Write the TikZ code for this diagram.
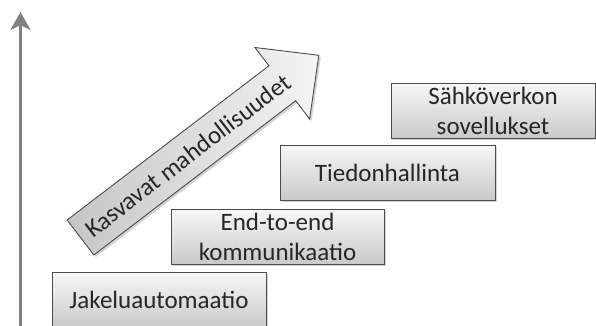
\documentclass[tikz,border=0pt]{standalone}
\usepackage{fontspec}
\setmainfont{Carlito}
\usetikzlibrary{shadows,arrows.meta,positioning}

\begin{document}
\begin{tikzpicture}[x=1pt,y=1pt]
    \tikzstyle{block} = [rectangle, draw=black!70, line width=0.9pt,
    top color=gray!6, bottom color=gray!42,
    drop shadow={opacity=0.35, shadow xshift=2pt, shadow yshift=-2pt},
    minimum height=55, inner sep=0pt, align=center,
    text=black!85, font=\fontsize{25}{30}\selectfont]
    \tikzstyle{axis} = [draw=gray, line width=3.5pt,
    -{Stealth[length=18pt,width=20pt,inset=5pt]}]

    \useasboundingbox (0,0) rectangle (596,325);
    \clip (0,0) rectangle (596,325);

    % Vertical axis
    \coordinate (axisbot) at (20.5,-5);
    \coordinate (axistop) at (20.5,313);
    \draw[axis] (axisbot) -- (axistop);

    % Steps
    \node[block, minimum width=214] (jakelu) at (159,25.5) {Jakeluautomaatio};
    \node[block, minimum width=213] (endtoend) at (277.5,88.5) {End-to-end\\kommunikaatio};
    \node[block, minimum width=215] (tieto) at (387.5,152.5) {Tiedonhallinta};
    \node[block, minimum width=204] (sovellus) at (493,214.5) {Sähköverkon\\sovellukset};

    % Big arrow
    \begin{scope}[shift={(80.5,87.5)}, rotate=37.4]
      \draw[draw=black!70, line width=0.9pt, left color=gray!45, right color=gray!8,
      drop shadow={opacity=0.35, shadow xshift=2pt, shadow yshift=-2pt}]
      (0,-22) -- (254,-22) -- (254,-45) -- (300,0) -- (254,45) -- (254,22) -- (0,22) -- cycle;
      \node[text=black!85, font=\fontsize{25}{30}\selectfont, rotate=37.4] (kasvu) at (135,0) {Kasvavat mahdollisuudet};
    \end{scope}

  \end{tikzpicture}
\end{document}
